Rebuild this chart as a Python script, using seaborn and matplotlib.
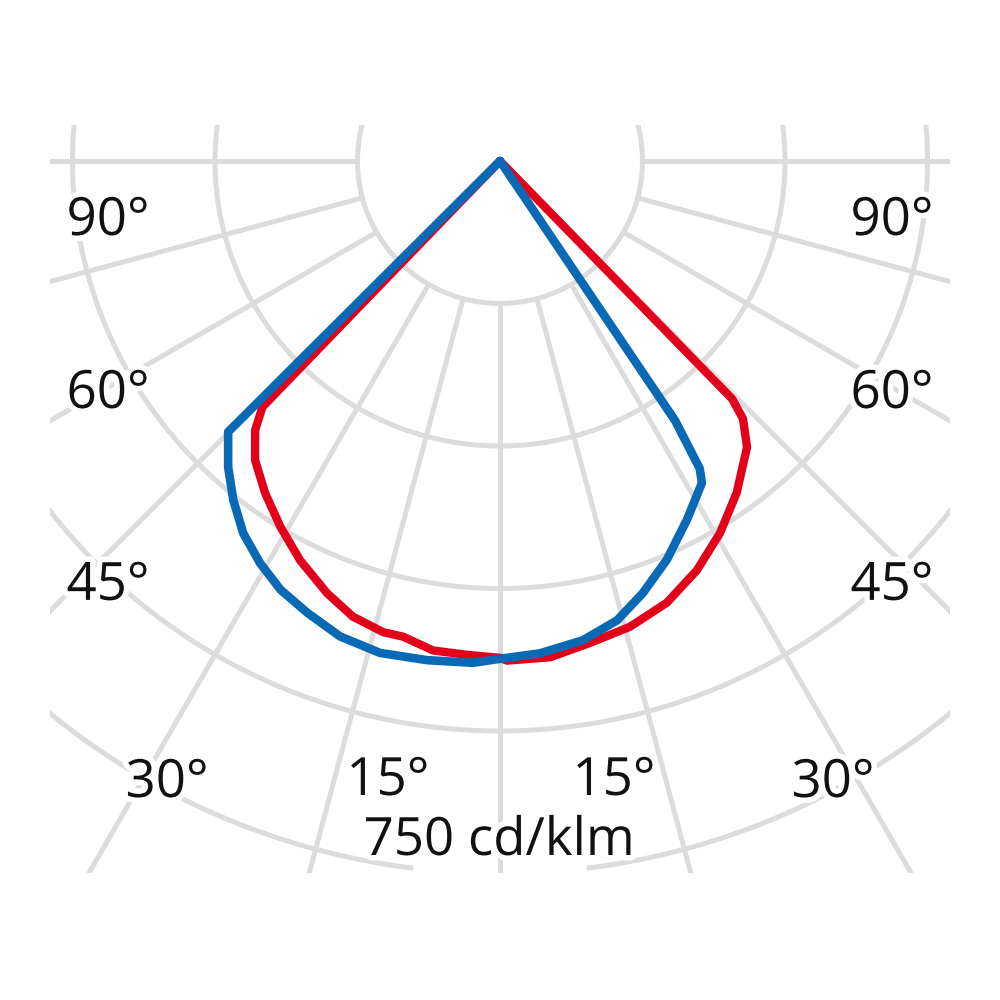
import numpy as np
import pandas as pd
import matplotlib
matplotlib.use("Agg")
import matplotlib.pyplot as plt
import matplotlib.patheffects as pe
from matplotlib.patches import Rectangle
import seaborn as sns

# Light distribution curve, cd/klm, angle measured from nadir (negative = left)
red_angle = [-90, -44.0, -42.3, -39.3, -35.3, -31.0, -26.6, -21.8, -17.9, -13.9, -11.5,
             -7.8, -3.8, 0, 0.8, 5.8, 10.6, 15.6, 20.7, 25.7, 30.6, 35.5, 40.8, 43.3, 44.3, 90]
red_cd = [0, 360, 383, 407, 428, 449, 470, 490, 504, 511, 511,
          520, 521, 523, 526, 525, 516, 509, 497, 478, 455, 429, 398, 373, 350, 0]

blue_angle = [-90, -45.1, -41.6, -38.2, -34.6, -30.8, -27.1, -23.1, -18.6, -13.7, -8.3,
              -3.1, 0, 4.6, 9.8, 14.3, 18.3, 22.7, 27.5, 32.1, 33.0, 34.0, 90]
blue_cd = [0, 404, 431, 454, 476, 493, 507, 517, 528, 533, 531,
           529, 524, 520, 512, 499, 479, 455, 426, 400, 386, 330, 0]

# polar grid
ring_values = [150, 300, 450, 600, 750]
spoke_angles = list(range(-90, 91, 15))
angle_labels = ["90°", "60°", "45°", "30°", "15°", "15°", "30°", "45°", "60°", "90°"]
scale_label = "750 cd/klm"

RED = "#E2001A"
BLUE = "#0A69B4"
GRID = "#DCDCDC"


def to_xy(angle_deg, r):
    a = np.radians(np.asarray(angle_deg, dtype=float))
    r = np.asarray(r, dtype=float)
    return r * np.sin(a), -r * np.cos(a)


sns.set_style("white")
plt.rcParams['font.family'] = ['Open Sans', 'DejaVu Sans']

fig = plt.figure(figsize=(10, 10), dpi=100)
ax = fig.add_axes([0, 0, 1, 1])
ax.axis("off")

# visible window of the grid
clip = Rectangle((-473.7, -749.5), 947.4, 787.4, transform=ax.transData)

grid_lines = []
for r in ring_values:
    if r == ring_values[-1]:
        t = np.linspace(7, 353, 400)   # gap under the scale text
    else:
        t = np.linspace(-180, 180, 500)
    gx, gy = to_xy(t, np.full_like(t, r))
    grid_lines += ax.plot(gx, gy, color=GRID, lw=3.6, zorder=1, solid_capstyle="butt")

for a in spoke_angles:
    sx, sy = to_xy([a, a], [ring_values[0], 1200])
    grid_lines += ax.plot(sx, sy, color=GRID, lw=3.6, zorder=1, solid_capstyle="butt")

for ln in grid_lines:
    ln.set_clip_path(clip)

# curves
rx, ry = to_xy(red_angle, red_cd)
bx, by = to_xy(blue_angle, blue_cd)
df_red = pd.DataFrame({"x": rx, "y": ry})
df_blue = pd.DataFrame({"x": bx, "y": by})

sns.lineplot(data=df_red, x="x", y="y", sort=False, estimator=None, color=RED,
             lw=6.0, ax=ax, zorder=2, solid_joinstyle="round", solid_capstyle="round")
sns.lineplot(data=df_blue, x="x", y="y", sort=False, estimator=None, color=BLUE,
             lw=6.2, ax=ax, zorder=3, solid_joinstyle="round", solid_capstyle="round")
ax.set_xlim(-526.32, 526.32)
ax.set_ylim(-883.16, 169.47)
ax.axis("off")

# labels
halo = [pe.withStroke(linewidth=8, foreground="white")]
label_pos = [(-412.6, -77.9), (-412.6, -260), (-412.6, -462), (-350.5, -669.5), (-118, -667.4),
             (120, -667.4), (350.5, -669.5), (412.6, -462), (412.6, -260), (412.6, -77.9)]
for txt, (lx, ly) in zip(angle_labels, label_pos):
    ax.text(lx, ly, txt, ha="center", va="baseline", fontsize=38, color="#111111",
            path_effects=halo, zorder=4)
ax.text(-1, -730.5, scale_label, ha="center", va="baseline", fontsize=38, color="#111111",
        path_effects=halo, zorder=4)

fig.savefig("out.png", dpi=100, facecolor="white")
